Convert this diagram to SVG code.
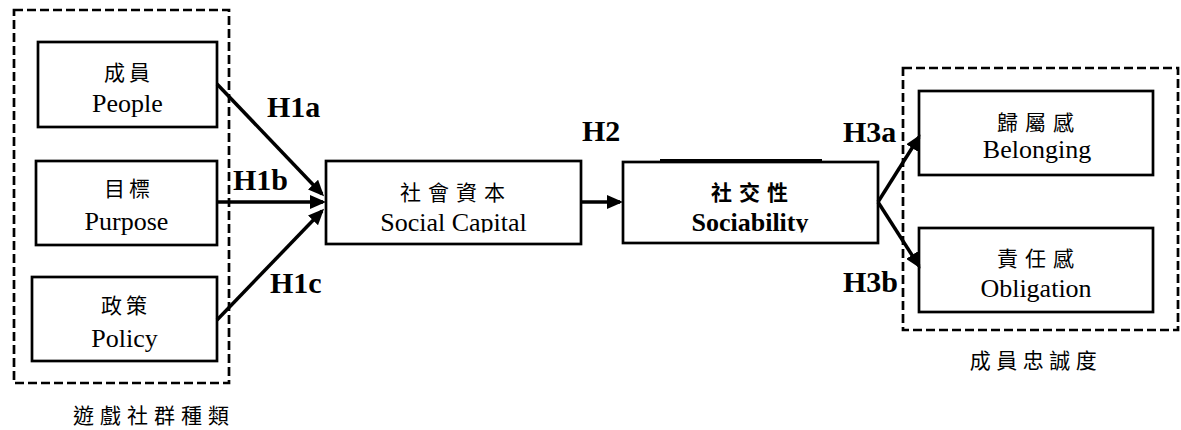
<svg xmlns="http://www.w3.org/2000/svg" width="1181" height="430" viewBox="0 0 1181 430">
<style>
.box{fill:#fff;stroke:#000;stroke-width:2.7}
.grp{fill:none;stroke:#000;stroke-width:2.7;stroke-dasharray:9 4}
.en{font-family:"Liberation Serif","Times New Roman",serif;font-size:26px;fill:#000;text-anchor:middle}
.cjk{font-family:"Liberation Serif","Noto Sans CJK TC",serif;font-size:21px;fill:#000;text-anchor:middle}
.hl{font-family:"Liberation Serif","Times New Roman",serif;font-size:30px;font-weight:bold;fill:#000}
.b{font-weight:bold}
.conn{stroke:#000;stroke-width:3.5;fill:none;marker-end:url(#ah)}
</style>
<defs>
<marker id="ah" markerUnits="userSpaceOnUse" markerWidth="16" markerHeight="14" refX="13" refY="7" orient="auto">
<path d="M0,0 L16,7 L0,14 z" fill="#000"/>
</marker>
<clipPath id="cut"><rect x="0" y="0" width="1181" height="232.5"/></clipPath>
</defs>
<rect width="1181" height="430" fill="#fff"/>

<g id="group-types">
<rect class="grp" x="14" y="10" width="215" height="373"/>
<text class="cjk" x="154" y="423" letter-spacing="6">遊戲社群種類</text>
</g>

<g id="group-loyalty">
<rect class="grp" x="903" y="68" width="275" height="262"/>
<text class="cjk" x="1036" y="368" letter-spacing="5.5">成員忠誠度</text>
</g>

<g id="people">
<rect class="box" x="38" y="42" width="179" height="85"/>
<text class="cjk" x="129" y="80" letter-spacing="4">成員</text>
<text class="en" x="127.5" y="112">People</text>
</g>

<g id="purpose">
<rect class="box" x="36" y="161" width="181" height="84"/>
<text class="cjk" x="129" y="196" letter-spacing="4">目標</text>
<text class="en" x="126.5" y="230">Purpose</text>
</g>

<g id="policy">
<rect class="box" x="32" y="277" width="185" height="84"/>
<text class="cjk" x="126" y="313" letter-spacing="4">政策</text>
<text class="en" x="124.5" y="347">Policy</text>
</g>

<g id="social-capital">
<rect class="box" x="326" y="161" width="255" height="83"/>
<text class="cjk" x="456" y="200" letter-spacing="7">社會資本</text>
<text class="en" x="453.5" y="231" clip-path="url(#cut)">Social Capital</text>
</g>

<g id="sociability">
<line x1="660" y1="160" x2="822" y2="160" stroke="#000" stroke-width="2"/>
<rect class="box" x="623" y="162" width="255" height="81"/>
<text class="cjk b" x="753" y="200" letter-spacing="7">社交性</text>
<text class="en b" x="750" y="231" clip-path="url(#cut)">Sociability</text>
</g>

<g id="belonging">
<rect class="box" x="919" y="91" width="234" height="84"/>
<text class="cjk" x="1039" y="130" letter-spacing="7">歸屬感</text>
<text class="en" x="1037" y="158">Belonging</text>
</g>

<g id="obligation">
<rect class="box" x="919" y="228" width="234" height="84"/>
<text class="cjk" x="1039" y="266" letter-spacing="7">責任感</text>
<text class="en" x="1036" y="297">Obligation</text>
</g>

<g id="connectors">
<line class="conn" x1="217" y1="84" x2="322" y2="194"/>
<line class="conn" x1="217" y1="202" x2="323" y2="202"/>
<line class="conn" x1="217" y1="320" x2="322" y2="211"/>
<line class="conn" x1="581" y1="202" x2="620" y2="202"/>
<line class="conn" x1="878" y1="202" x2="919" y2="137"/>
<line class="conn" x1="878" y1="202" x2="919" y2="266"/>
</g>

<g id="labels">
<text class="hl" x="267" y="117">H1a</text>
<text class="hl" x="233" y="190">H1b</text>
<text class="hl" x="270" y="293">H1c</text>
<text class="hl" x="582" y="141">H2</text>
<text class="hl" x="843" y="142">H3a</text>
<text class="hl" x="843" y="292">H3b</text>
</g>
</svg>
